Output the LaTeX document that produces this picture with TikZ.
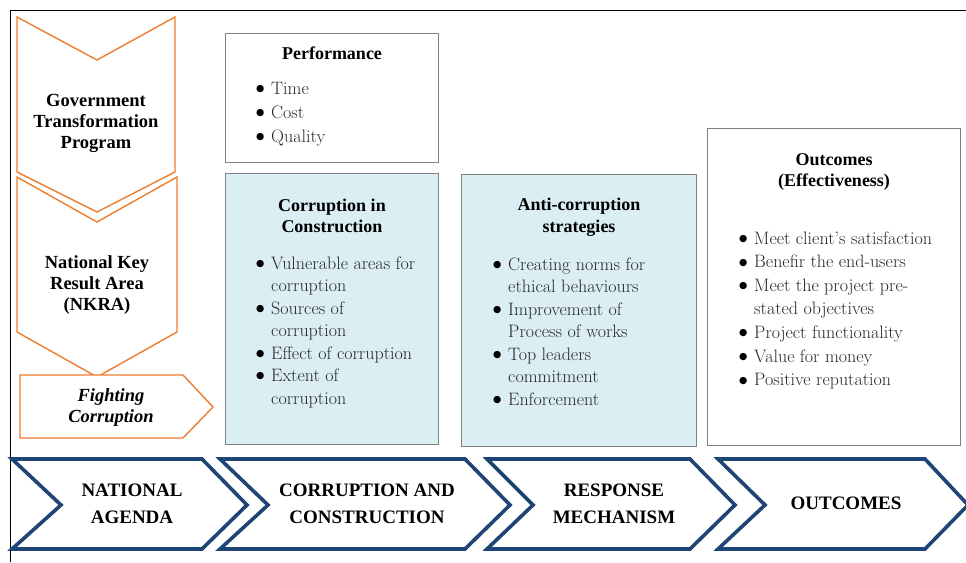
\documentclass[tikz,border=0pt]{standalone}
\usepackage{fontspec}
\newfontfamily\hf{Liberation Serif}
\newfontfamily\symf{DejaVu Sans}
\definecolor{orangec}{RGB}{237,125,49}
\definecolor{navy}{RGB}{31,68,118}
\definecolor{panelgray}{RGB}{127,127,127}
\definecolor{lightblue}{RGB}{218,238,243}
\definecolor{bodytext}{RGB}{40,40,40}
\newcommand\blist[2]{{\fontsize{18}{#1}\selectfont\color{bodytext}\begin{tabular}[t]{@{}l@{\hspace{6pt}}l@{}}#2\end{tabular}}}
\newcommand\bu{\makebox[10pt][c]{\color{black}\raisebox{2.6pt}{\symf\fontsize{9.5}{9.5}\selectfont ●}}}
\begin{document}
\begin{tikzpicture}[x=1pt,y=-1pt,
  orangeshape/.style={draw=orangec,line width=1.4pt,line join=miter,fill=white},
  navyshape/.style={draw=navy,line width=3.6pt,line join=miter,fill=white},
  panel/.style={draw=panelgray,line width=1pt,anchor=north west,inner sep=0pt},
  head/.style={font=\hf\bfseries\fontsize{18}{21.5}\selectfont,align=center,inner sep=0pt},
  lefthead/.style={font=\hf\bfseries\fontsize{18.5}{21}\selectfont,align=center,inner sep=0pt},
  stagetext/.style={font=\hf\bfseries\fontsize{19}{27}\selectfont,align=center,inner sep=0pt},
  listnode/.style={anchor=base west,inner sep=0pt}]
\useasboundingbox (0,0) rectangle (966,562);
% frame
\draw[black,line width=1pt] (10,562) -- (10,10) -- (966,10);
% left orange chevrons
\draw[orangeshape] (17,17) -- (97,60) -- (175,17) -- (175,172) -- (97,212) -- (17,172) -- cycle;
\draw[orangeshape] (17,177) -- (97,222) -- (177,177) -- (177,332) -- (97,377) -- (17,332) -- cycle;
\draw[orangeshape] (20,375) -- (183,375) -- (213,407) -- (183,438) -- (20,438) -- cycle;
\node[lefthead] (gtp) at (96,123) {Government\\Transformation\\Program};
\node[lefthead] (nkra) at (97,285) {National Key\\Result Area\\(NKRA)};
\node[lefthead,font=\hf\bfseries\itshape\fontsize{18.5}{21}\selectfont] (fight) at (111,408) {Fighting\\Corruption};
% panels
\node[panel,fill=white,minimum width=213pt,minimum height=129pt] (perf) at (225,33) {};
\node[panel,fill=lightblue,minimum width=213pt,minimum height=271pt] (corr) at (225,173) {};
\node[panel,fill=lightblue,minimum width=235pt,minimum height=272pt] (anti) at (461,174) {};
\node[panel,fill=white,minimum width=253pt,minimum height=317pt] (outc) at (707,128) {};
% panel headings
\node[head] (perfH) at (332,53) {Performance};
\node[head] (corrH) at (332,216) {Corruption in\\Construction};
\node[head] (antiH) at (579,217) {Anti-corruption\\strategies};
\node[head] (outcH) at (834,172) {Outcomes\\(Effectiveness)};
% lists
\node[listnode] (perfL) at (255,94) {\blist{24}{\bu & Time\\ \bu & Cost\\ \bu & Quality}};
\node[listnode] (corrL) at (255,269) {\blist{22.5}{\bu & Vulnerable areas for\\ & corruption\\ \bu & Sources of\\ & corruption\\ \bu & Effect of corruption\\ \bu & Extent of\\ & corruption}};
\node[listnode] (antiL) at (492,270) {\blist{22.5}{\bu & Creating norms for\\ & ethical behaviours\\ \bu & Improvement of\\ & Process of works\\ \bu & Top leaders\\ & commitment\\ \bu & Enforcement}};
\node[listnode] (outcL) at (738,244) {\blist{23.6}{\bu & Meet client's satisfaction\\ \bu & Benefir the end-users\\ \bu & Meet the project pre-\\ & stated objectives\\ \bu & Project functionality\\ \bu & Value for money\\ \bu & Positive reputation}};
% bottom stage chevrons
\draw[navyshape] (12,459) -- (202,459) -- (247,505) -- (202,549) -- (12,549) -- (61,505) -- cycle;
\draw[navyshape] (220,459) -- (465,459) -- (510,505) -- (465,549) -- (220,549) -- (268,505) -- cycle;
\draw[navyshape] (487,459) -- (690,459) -- (735,505) -- (690,549) -- (487,549) -- (533,505) -- cycle;
\draw[navyshape] (718,459) -- (925,459) -- (968,505) -- (925,549) -- (718,549) -- (765,505) -- cycle;
\node[stagetext] (s1) at (132,504) {NATIONAL\\AGENDA};
\node[stagetext] (s2) at (367,504) {CORRUPTION AND\\CONSTRUCTION};
\node[stagetext] (s3) at (614,504) {RESPONSE\\MECHANISM};
\node[stagetext] (s4) at (846,503) {OUTCOMES};
\end{tikzpicture}
\end{document}
